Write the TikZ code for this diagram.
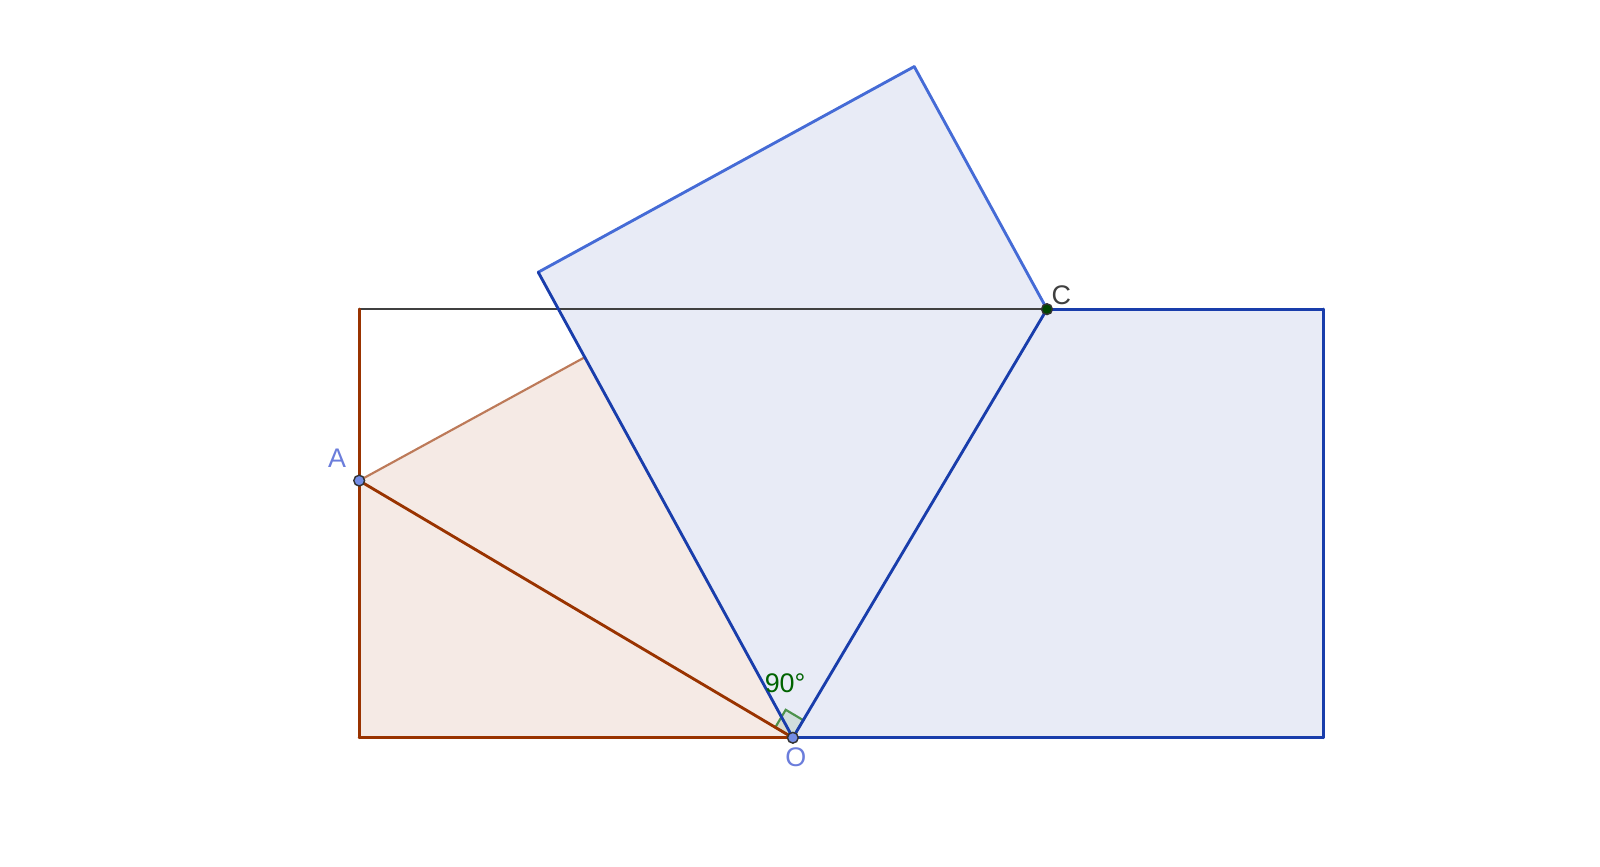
\documentclass[tikz,border=0pt]{standalone}
\usepackage{fontspec}
\setmainfont{Liberation Sans}
\usetikzlibrary{arrows,calc}
\usepackage{tkz-euclide}
\definecolor{ShapeClr}{rgb}{0.6,0.2,0}
\definecolor{FoldClr}{rgb}{0.1,0.24,0.67}
\definecolor{EdgeClr}{rgb}{0.27,0.42,0.84}
\definecolor{AngleClr}{rgb}{0,0.39,0}
\definecolor{PointClr}{rgb}{0.45,0.55,0.9}
\definecolor{LabelClr}{rgb}{0.42,0.49,0.86}

\begin{document}
\begin{tikzpicture}
\useasboundingbox (-3.52,-1.26) rectangle (12.16,7.23);
\tkzSetUpLine[line width=0.8pt,color=black]
\tkzSetUpPoint[size=3,color=black!80,fill=PointClr]

\tkzDefPoints{0/0/B,4.25/0/O,0/2.52/A,0/4.2/D,6.74/4.2/C,9.45/0/E,9.45/4.2/F}

\tkzDefPointBy[reflection=over A--O](B)\tkzGetPoint{Bp}
\tkzDefPointBy[reflection=over O--C](E)\tkzGetPoint{Ep}
\tkzDefPointBy[reflection=over O--C](F)\tkzGetPoint{Fp}

\tkzFillPolygon[fill=ShapeClr,fill opacity=0.1](B,A,Bp,O)
\tkzFillPolygon[fill=FoldClr,fill opacity=0.1](O,E,F,C)
\tkzFillPolygon[fill=FoldClr,fill opacity=0.1](O,Ep,Fp,C)

\tkzMarkRightAngle[line width=0.6pt,size=.2,color=AngleClr!70,fill=AngleClr,fill opacity=0.1](A,O,C)

\tkzDrawSegment[line width=0.6pt,color=black!75](D,C)
\tkzDrawSegments[color=ShapeClr](D,A A,B B,O A,O)
\tkzDrawSegment[line width=0.6pt,color=ShapeClr!65](A,Bp)
\tkzDrawSegments[color=EdgeClr](Ep,Fp Fp,C)
\tkzDrawSegments[color=FoldClr](O,E E,F F,C C,O O,Ep)

\tkzDrawPoints(A,O)
\tkzDrawPoints[fill=AngleClr!70!black](C)
\tkzLabelPoint[above left,LabelClr,font=\fontsize{7.5}{9}\selectfont](A){A}
\tkzLabelPoint[above right,inner sep=1pt,black!75,font=\fontsize{7.5}{9}\selectfont](C){C}
\tkzLabelPoint[below,inner sep=2.5pt,xshift=0.03cm,LabelClr,font=\fontsize{7.5}{9}\selectfont](O){O}
\tkzLabelAngle[pos=.55,xshift=0.06cm,AngleClr,font=\fontsize{7.5}{9}\selectfont](C,O,A){90°}

\end{tikzpicture}
\end{document}
